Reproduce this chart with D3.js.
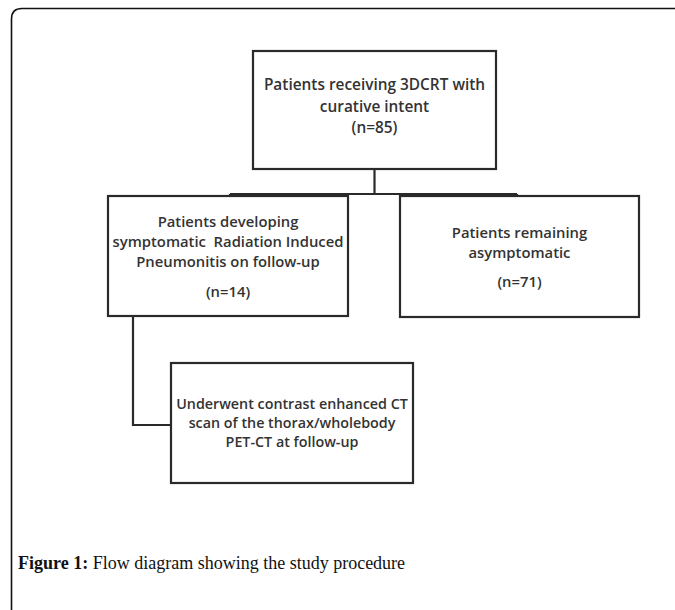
<!DOCTYPE html>
<html>
<head>
<meta charset="utf-8">
<script src="https://cdn.jsdelivr.net/npm/d3@7"></script>
<style>
  body { margin: 0; background: #fff; }
</style>
</head>
<body>
<div id="flow"></div>
<script>
// Contenu du diagramme
const nodeIds = ["all", "rip", "asym", "ct"];
const nodeLines = [
  ["Patients receiving 3DCRT with", "curative intent"],
  ["Patients developing", "symptomatic  Radiation Induced", "Pneumonitis on follow-up"],
  ["Patients remaining", "asymptomatic"],
  ["Underwent contrast enhanced CT", "scan of the thorax/wholebody", "PET-CT at follow-up"]
];
const nodeCounts = [85, 14, 71, null];
const links = [["all", "rip"], ["all", "asym"], ["rip", "ct"]];
const captionBold = "Figure 1:";
const captionText = " Flow diagram showing the study procedure";

// Mise en page (pixels)
const W = 675, H = 610;
const layout = {
  all:  { x: 253, y: 51,  w: 243, h: 118, textY: 85 },
  rip:  { x: 108, y: 196, w: 240, h: 120, textY: 222 },
  asym: { x: 400, y: 196, w: 239, h: 121, textY: 233 },
  ct:   { x: 171, y: 363, w: 242, h: 120, textY: 404 }
};
const lineGap = [22, 20, 20, 19];
const countGap = [21, 30, 29, 0];
const fontSize = [15.4, 14.8, 14.8, 14.3];

const svg = d3.select("#flow").append("svg")
  .attr("width", W)
  .attr("height", H);

// Cadre extérieur (coin arrondi en haut à gauche)
svg.append("path")
  .attr("d", `M11.5,${H + 2} L11.5,19 Q11.5,8.5 22,8.5 L${W + 2},8.5`)
  .attr("fill", "none")
  .attr("stroke", "#111")
  .attr("stroke-width", 1.6);

const nodes = nodeIds.map((id, i) => ({ id, lines: nodeLines[i], n: nodeCounts[i], ...layout[id] }));
const byId = Object.fromEntries(nodes.map(d => [d.id, d]));

// Connecteurs
const lineColor = "#2a2a2a";
const conn = svg.append("g")
  .attr("fill", "none")
  .attr("stroke", lineColor)
  .attr("stroke-width", 2.2);

// branche principale : descente puis barre horizontale
const root = byId.all;
const barY = 194;
conn.append("path")
  .attr("d", `M${root.x + root.w / 2},${root.y + root.h} V${barY}`);
const children = links.filter(l => l[0] === "all").map(l => byId[l[1]]);
const xs = [230, 517];
conn.append("path")
  .attr("d", `M${xs[0]},${barY} H${xs[1]}`);
children.forEach((c, i) => {
  conn.append("path").attr("d", `M${xs[i]},${barY} V${c.y}`);
});

// branche coudée vers le scanner
const rip = byId.rip, ct = byId.ct;
const elbowX = 133, elbowY = 425;
conn.append("path")
  .attr("d", `M${elbowX},${rip.y + rip.h} V${elbowY} H${ct.x}`);

// Boîtes
const box = svg.selectAll(".node")
  .data(nodes)
  .enter().append("g")
  .attr("class", "node");

box.append("rect")
  .attr("x", d => d.x)
  .attr("y", d => d.y)
  .attr("width", d => d.w)
  .attr("height", d => d.h)
  .attr("fill", "#fff")
  .attr("stroke", lineColor)
  .attr("stroke-width", 2.2);

box.each(function(d, i) {
  const g = d3.select(this);
  const cx = d.x + d.w / 2;
  d.lines.forEach((t, j) => {
    g.append("text")
      .attr("x", cx)
      .attr("y", d.textY + j * lineGap[i])
      .attr("dy", "0.35em")
      .attr("text-anchor", "middle")
      .attr("font-family", "'Open Sans', sans-serif")
      .attr("font-size", fontSize[i] + "px")
      .attr("font-weight", 600)
      .attr("fill", "#333")
      .style("white-space", "pre")
      .text(t);
  });
  if (d.n != null) {
    g.append("text")
      .attr("x", cx)
      .attr("y", d.textY + (d.lines.length - 1) * lineGap[i] + countGap[i])
      .attr("dy", "0.35em")
      .attr("text-anchor", "middle")
      .attr("font-family", "'Open Sans', sans-serif")
      .attr("font-size", fontSize[i] + "px")
      .attr("font-weight", 600)
      .attr("fill", "#333")
      .text(`(n=${d.n})`);
  }
});

// Légende de la figure
const cap = svg.append("text")
  .attr("x", 18)
  .attr("y", 569)
  .attr("font-family", "'Liberation Serif', 'DejaVu Serif', serif")
  .attr("font-size", "18px")
  .attr("fill", "#111");
cap.append("tspan").attr("font-weight", "bold").text(captionBold);
cap.append("tspan").style("white-space", "pre").text(captionText);
</script>
</body>
</html>
